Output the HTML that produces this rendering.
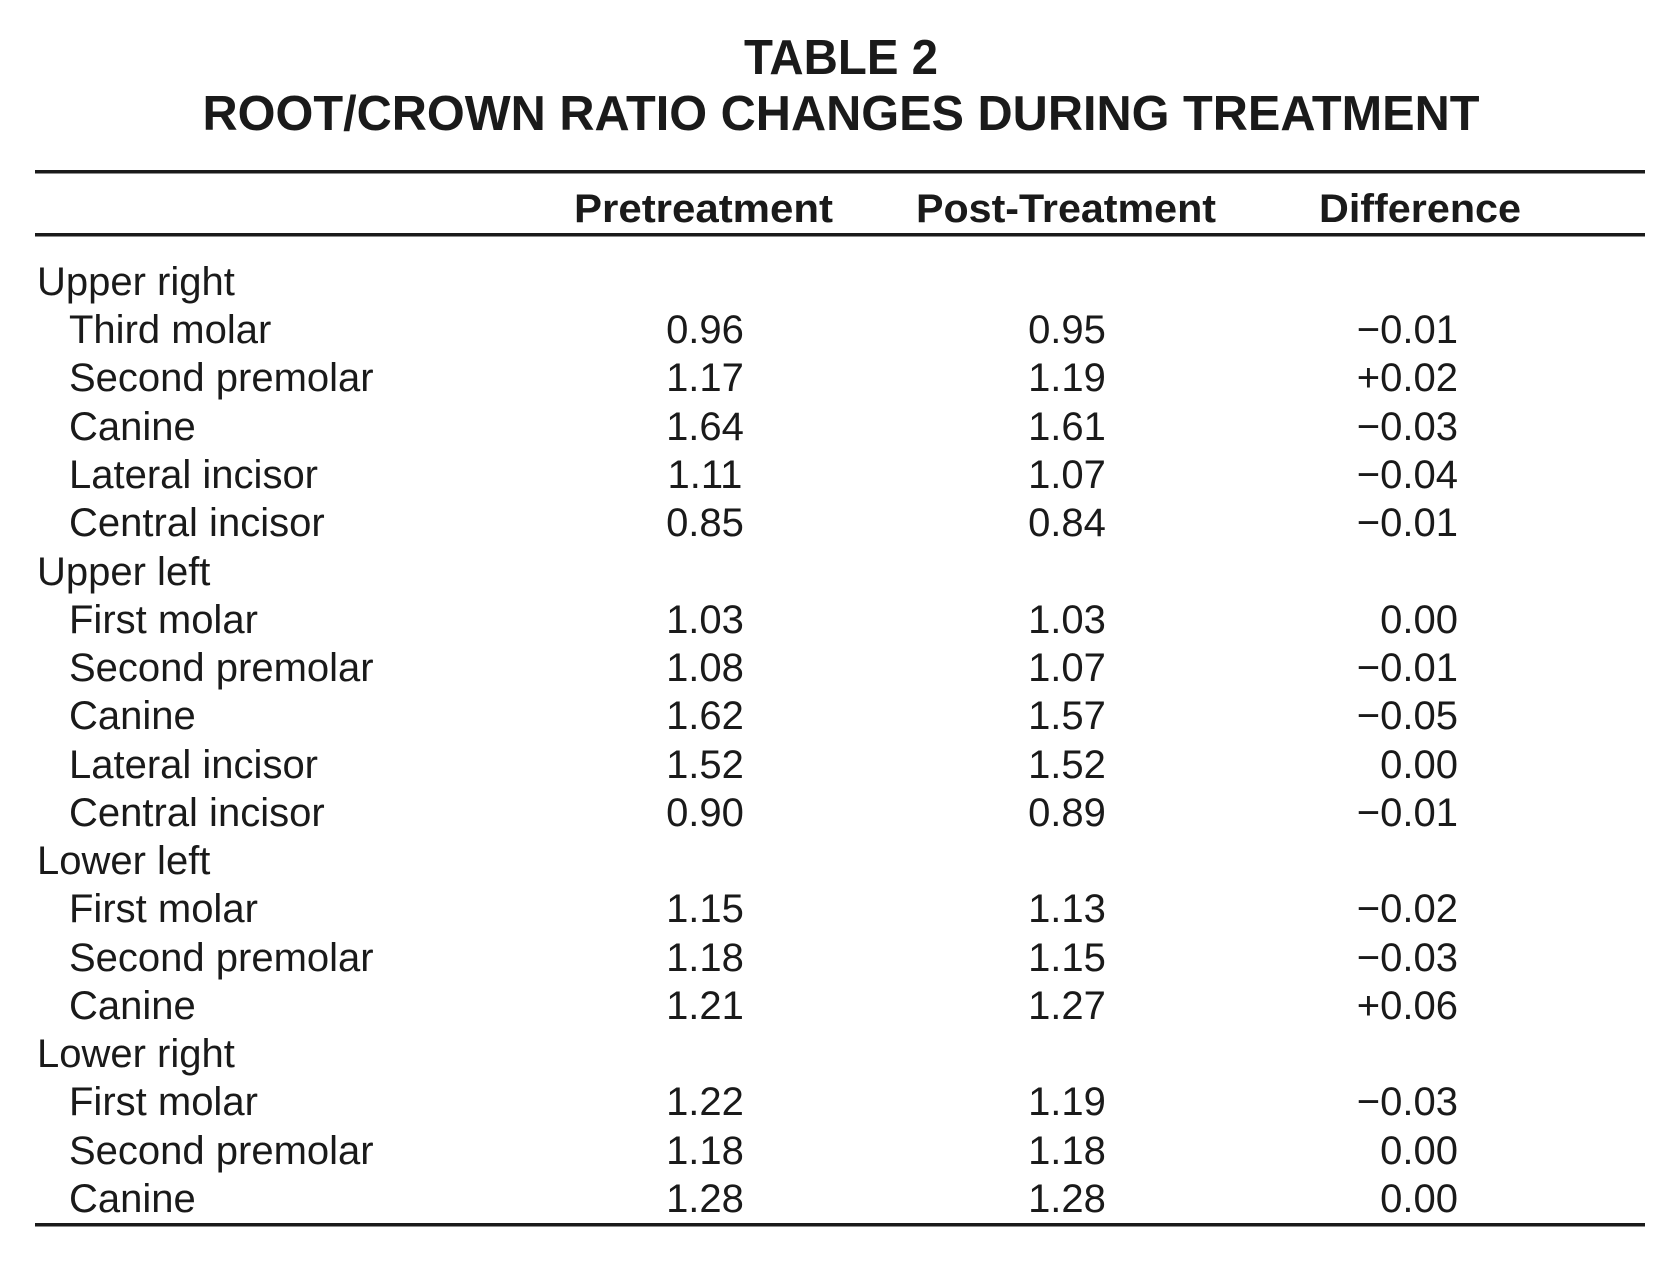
<!DOCTYPE html>
<html><head><meta charset="utf-8"><style>
html,body{margin:0;padding:0;background:#fff;}
svg{display:block;}
text{font-family:"Liberation Sans",Arial,sans-serif;fill:#1a1a1a;}
.t{font-weight:bold;font-size:49px;}
.h{font-weight:bold;font-size:40px;}
.r{font-size:40px;}
</style></head><body>
<svg width="1662" height="1266" viewBox="0 0 1662 1266" xmlns="http://www.w3.org/2000/svg">
<text class="t" x="841" y="74" text-anchor="middle" textLength="194" lengthAdjust="spacingAndGlyphs">TABLE 2</text>
<text class="t" x="841" y="130" text-anchor="middle" textLength="1277" lengthAdjust="spacingAndGlyphs">ROOT/CROWN RATIO CHANGES DURING TREATMENT</text>
<rect x="35" y="170" width="1610" height="3.5" fill="#1a1a1a"/>
<text class="h" x="574" y="222" textLength="259" lengthAdjust="spacingAndGlyphs">Pretreatment</text>
<text class="h" x="916" y="222" textLength="300" lengthAdjust="spacingAndGlyphs">Post-Treatment</text>
<text class="h" x="1319" y="222" textLength="202" lengthAdjust="spacingAndGlyphs">Difference</text>
<rect x="35" y="233" width="1610" height="3.5" fill="#1a1a1a"/>
<g class="r">
<text class="r" x="37" y="295">Upper right</text>
<text class="r" x="69" y="343">Third molar</text><text class="r" x="705" y="343" text-anchor="middle">0.96</text><text class="r" x="1067" y="343" text-anchor="middle">0.95</text><text class="r" x="1458" y="343" text-anchor="end">−0.01</text>
<text class="r" x="69" y="391">Second premolar</text><text class="r" x="705" y="391" text-anchor="middle">1.17</text><text class="r" x="1067" y="391" text-anchor="middle">1.19</text><text class="r" x="1458" y="391" text-anchor="end">+0.02</text>
<text class="r" x="69" y="440">Canine</text><text class="r" x="705" y="440" text-anchor="middle">1.64</text><text class="r" x="1067" y="440" text-anchor="middle">1.61</text><text class="r" x="1458" y="440" text-anchor="end">−0.03</text>
<text class="r" x="69" y="488">Lateral incisor</text><text class="r" x="705" y="488" text-anchor="middle">1.11</text><text class="r" x="1067" y="488" text-anchor="middle">1.07</text><text class="r" x="1458" y="488" text-anchor="end">−0.04</text>
<text class="r" x="69" y="536">Central incisor</text><text class="r" x="705" y="536" text-anchor="middle">0.85</text><text class="r" x="1067" y="536" text-anchor="middle">0.84</text><text class="r" x="1458" y="536" text-anchor="end">−0.01</text>
<text class="r" x="37" y="585">Upper left</text>
<text class="r" x="69" y="633">First molar</text><text class="r" x="705" y="633" text-anchor="middle">1.03</text><text class="r" x="1067" y="633" text-anchor="middle">1.03</text><text class="r" x="1458" y="633" text-anchor="end">0.00</text>
<text class="r" x="69" y="681">Second premolar</text><text class="r" x="705" y="681" text-anchor="middle">1.08</text><text class="r" x="1067" y="681" text-anchor="middle">1.07</text><text class="r" x="1458" y="681" text-anchor="end">−0.01</text>
<text class="r" x="69" y="729">Canine</text><text class="r" x="705" y="729" text-anchor="middle">1.62</text><text class="r" x="1067" y="729" text-anchor="middle">1.57</text><text class="r" x="1458" y="729" text-anchor="end">−0.05</text>
<text class="r" x="69" y="778">Lateral incisor</text><text class="r" x="705" y="778" text-anchor="middle">1.52</text><text class="r" x="1067" y="778" text-anchor="middle">1.52</text><text class="r" x="1458" y="778" text-anchor="end">0.00</text>
<text class="r" x="69" y="826">Central incisor</text><text class="r" x="705" y="826" text-anchor="middle">0.90</text><text class="r" x="1067" y="826" text-anchor="middle">0.89</text><text class="r" x="1458" y="826" text-anchor="end">−0.01</text>
<text class="r" x="37" y="874">Lower left</text>
<text class="r" x="69" y="922">First molar</text><text class="r" x="705" y="922" text-anchor="middle">1.15</text><text class="r" x="1067" y="922" text-anchor="middle">1.13</text><text class="r" x="1458" y="922" text-anchor="end">−0.02</text>
<text class="r" x="69" y="971">Second premolar</text><text class="r" x="705" y="971" text-anchor="middle">1.18</text><text class="r" x="1067" y="971" text-anchor="middle">1.15</text><text class="r" x="1458" y="971" text-anchor="end">−0.03</text>
<text class="r" x="69" y="1019">Canine</text><text class="r" x="705" y="1019" text-anchor="middle">1.21</text><text class="r" x="1067" y="1019" text-anchor="middle">1.27</text><text class="r" x="1458" y="1019" text-anchor="end">+0.06</text>
<text class="r" x="37" y="1067">Lower right</text>
<text class="r" x="69" y="1115">First molar</text><text class="r" x="705" y="1115" text-anchor="middle">1.22</text><text class="r" x="1067" y="1115" text-anchor="middle">1.19</text><text class="r" x="1458" y="1115" text-anchor="end">−0.03</text>
<text class="r" x="69" y="1164">Second premolar</text><text class="r" x="705" y="1164" text-anchor="middle">1.18</text><text class="r" x="1067" y="1164" text-anchor="middle">1.18</text><text class="r" x="1458" y="1164" text-anchor="end">0.00</text>
<text class="r" x="69" y="1212">Canine</text><text class="r" x="705" y="1212" text-anchor="middle">1.28</text><text class="r" x="1067" y="1212" text-anchor="middle">1.28</text><text class="r" x="1458" y="1212" text-anchor="end">0.00</text>
</g>
<rect x="35" y="1223" width="1610" height="3.5" fill="#1a1a1a"/>
</svg>
</body></html>
